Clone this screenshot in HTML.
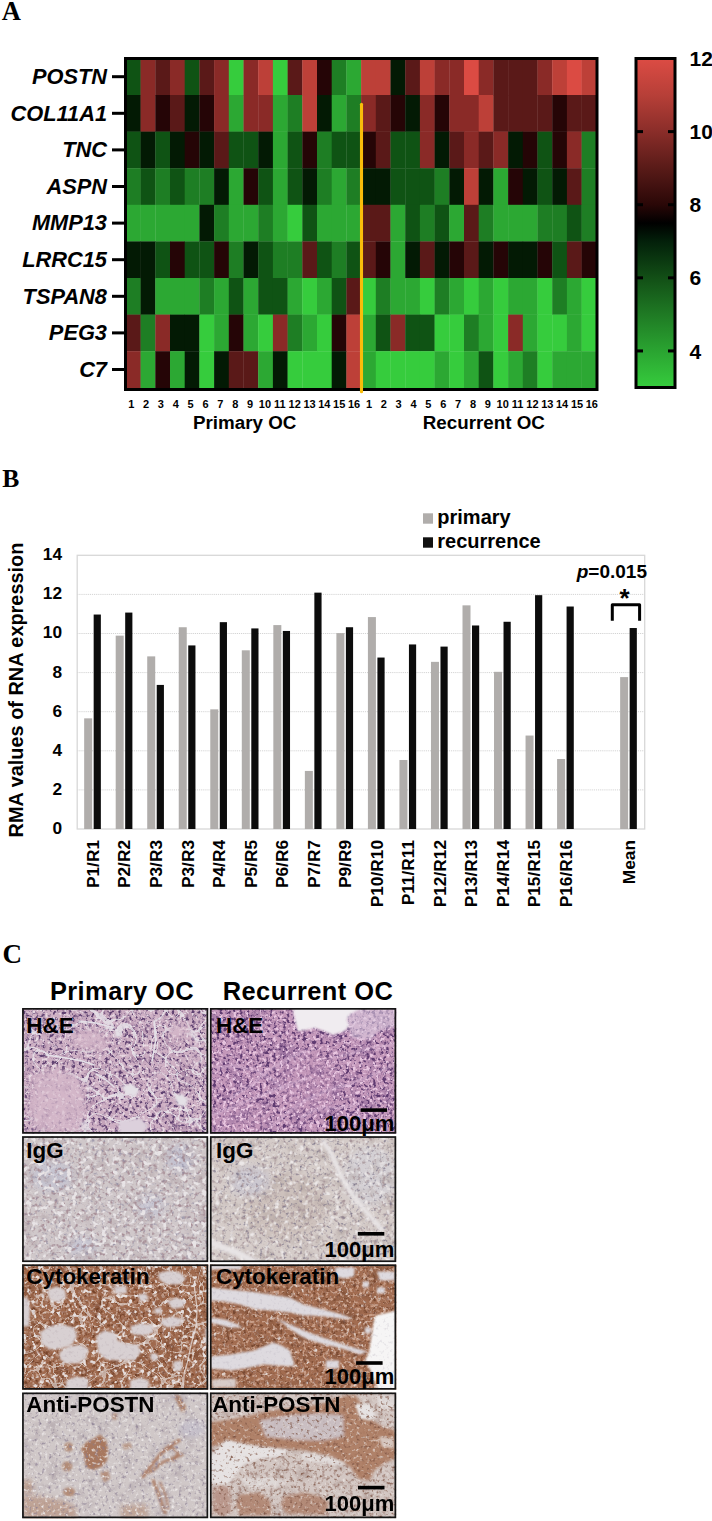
<!DOCTYPE html>
<html><head><meta charset="utf-8"><style>
html,body{margin:0;padding:0;background:#fff;}
body{width:712px;height:1521px;position:relative;overflow:hidden;font-family:"Liberation Sans",sans-serif;}
svg{position:absolute;left:0;top:0;}
text{font-family:"Liberation Sans",sans-serif;font-weight:bold;fill:#000;}
.gene{font-size:21.8px;font-style:italic;text-anchor:end;}
.cn{font-size:11px;text-anchor:middle;}
.grp{font-size:18.8px;text-anchor:middle;}
.cbl{font-size:21px;}
.cat{font-size:17.3px;text-anchor:end;}
.tk{font-size:17.3px;text-anchor:end;}
.ylab{font-size:19.9px;text-anchor:middle;}
.leg{font-size:20px;}
.pv{font-size:19px;text-anchor:end;}
.star{font-size:26px;text-anchor:middle;}
.ptl{font-size:25.4px;text-anchor:middle;letter-spacing:0.45px;}
.plab{font-size:22.4px;}
.um{font-size:22px;text-anchor:end;}
.pl{font-family:"Liberation Serif",serif;font-weight:bold;font-size:25px;}
</style></head><body>
<svg width="712" height="1521" viewBox="0 0 712 1521">
<text x="1.8" y="19.6" class="pl" style="font-size:26.5px">A</text>
<text x="2.2" y="486.8" class="pl" style="font-size:25.6px">B</text>
<text x="2.6" y="962.6" class="pl" style="font-size:27px">C</text>
<rect x="125.90" y="58.40" width="15.00" height="36.90" fill="#0f5314"/>
<rect x="140.60" y="58.40" width="15.00" height="36.90" fill="#8a2a27"/>
<rect x="155.30" y="58.40" width="15.00" height="36.90" fill="#5a1918"/>
<rect x="170.00" y="58.40" width="15.00" height="36.90" fill="#8a2a27"/>
<rect x="184.70" y="58.40" width="15.00" height="36.90" fill="#0f5314"/>
<rect x="199.40" y="58.40" width="15.00" height="36.90" fill="#5a1918"/>
<rect x="214.10" y="58.40" width="15.00" height="36.90" fill="#8a2a27"/>
<rect x="228.80" y="58.40" width="15.00" height="36.90" fill="#36cc3d"/>
<rect x="243.50" y="58.40" width="15.00" height="36.90" fill="#8a2a27"/>
<rect x="258.20" y="58.40" width="15.00" height="36.90" fill="#bd4038"/>
<rect x="272.90" y="58.40" width="15.00" height="36.90" fill="#36cc3d"/>
<rect x="287.60" y="58.40" width="15.00" height="36.90" fill="#5a1918"/>
<rect x="302.30" y="58.40" width="15.00" height="36.90" fill="#bd4038"/>
<rect x="317.00" y="58.40" width="15.00" height="36.90" fill="#250506"/>
<rect x="331.70" y="58.40" width="15.00" height="36.90" fill="#1e7e24"/>
<rect x="346.40" y="58.40" width="15.00" height="36.90" fill="#2ca833"/>
<rect x="361.10" y="58.40" width="15.00" height="36.90" fill="#bd4038"/>
<rect x="375.80" y="58.40" width="15.00" height="36.90" fill="#bd4038"/>
<rect x="390.50" y="58.40" width="15.00" height="36.90" fill="#031a04"/>
<rect x="405.20" y="58.40" width="15.00" height="36.90" fill="#5a1918"/>
<rect x="419.90" y="58.40" width="15.00" height="36.90" fill="#bd4038"/>
<rect x="434.60" y="58.40" width="15.00" height="36.90" fill="#8a2a27"/>
<rect x="449.30" y="58.40" width="15.00" height="36.90" fill="#8a2a27"/>
<rect x="464.00" y="58.40" width="15.00" height="36.90" fill="#db4b43"/>
<rect x="478.70" y="58.40" width="15.00" height="36.90" fill="#8a2a27"/>
<rect x="493.40" y="58.40" width="15.00" height="36.90" fill="#5a1918"/>
<rect x="508.10" y="58.40" width="15.00" height="36.90" fill="#5a1918"/>
<rect x="522.80" y="58.40" width="15.00" height="36.90" fill="#5a1918"/>
<rect x="537.50" y="58.40" width="15.00" height="36.90" fill="#8a2a27"/>
<rect x="552.20" y="58.40" width="15.00" height="36.90" fill="#bd4038"/>
<rect x="566.90" y="58.40" width="15.00" height="36.90" fill="#db4b43"/>
<rect x="581.60" y="58.40" width="15.00" height="36.90" fill="#bd4038"/>
<rect x="125.90" y="95.00" width="15.00" height="36.90" fill="#031a04"/>
<rect x="140.60" y="95.00" width="15.00" height="36.90" fill="#8a2a27"/>
<rect x="155.30" y="95.00" width="15.00" height="36.90" fill="#250506"/>
<rect x="170.00" y="95.00" width="15.00" height="36.90" fill="#5a1918"/>
<rect x="184.70" y="95.00" width="15.00" height="36.90" fill="#031a04"/>
<rect x="199.40" y="95.00" width="15.00" height="36.90" fill="#250506"/>
<rect x="214.10" y="95.00" width="15.00" height="36.90" fill="#8a2a27"/>
<rect x="228.80" y="95.00" width="15.00" height="36.90" fill="#2ca833"/>
<rect x="243.50" y="95.00" width="15.00" height="36.90" fill="#8a2a27"/>
<rect x="258.20" y="95.00" width="15.00" height="36.90" fill="#8a2a27"/>
<rect x="272.90" y="95.00" width="15.00" height="36.90" fill="#2ca833"/>
<rect x="287.60" y="95.00" width="15.00" height="36.90" fill="#1e7e24"/>
<rect x="302.30" y="95.00" width="15.00" height="36.90" fill="#bd4038"/>
<rect x="317.00" y="95.00" width="15.00" height="36.90" fill="#031a04"/>
<rect x="331.70" y="95.00" width="15.00" height="36.90" fill="#2ca833"/>
<rect x="346.40" y="95.00" width="15.00" height="36.90" fill="#1e7e24"/>
<rect x="361.10" y="95.00" width="15.00" height="36.90" fill="#8a2a27"/>
<rect x="375.80" y="95.00" width="15.00" height="36.90" fill="#5a1918"/>
<rect x="390.50" y="95.00" width="15.00" height="36.90" fill="#250506"/>
<rect x="405.20" y="95.00" width="15.00" height="36.90" fill="#031a04"/>
<rect x="419.90" y="95.00" width="15.00" height="36.90" fill="#8a2a27"/>
<rect x="434.60" y="95.00" width="15.00" height="36.90" fill="#250506"/>
<rect x="449.30" y="95.00" width="15.00" height="36.90" fill="#8a2a27"/>
<rect x="464.00" y="95.00" width="15.00" height="36.90" fill="#8a2a27"/>
<rect x="478.70" y="95.00" width="15.00" height="36.90" fill="#bd4038"/>
<rect x="493.40" y="95.00" width="15.00" height="36.90" fill="#5a1918"/>
<rect x="508.10" y="95.00" width="15.00" height="36.90" fill="#5a1918"/>
<rect x="522.80" y="95.00" width="15.00" height="36.90" fill="#5a1918"/>
<rect x="537.50" y="95.00" width="15.00" height="36.90" fill="#5a1918"/>
<rect x="552.20" y="95.00" width="15.00" height="36.90" fill="#250506"/>
<rect x="566.90" y="95.00" width="15.00" height="36.90" fill="#5a1918"/>
<rect x="581.60" y="95.00" width="15.00" height="36.90" fill="#5a1918"/>
<rect x="125.90" y="131.60" width="15.00" height="36.90" fill="#0f5314"/>
<rect x="140.60" y="131.60" width="15.00" height="36.90" fill="#031a04"/>
<rect x="155.30" y="131.60" width="15.00" height="36.90" fill="#0f5314"/>
<rect x="170.00" y="131.60" width="15.00" height="36.90" fill="#031a04"/>
<rect x="184.70" y="131.60" width="15.00" height="36.90" fill="#250506"/>
<rect x="199.40" y="131.60" width="15.00" height="36.90" fill="#031a04"/>
<rect x="214.10" y="131.60" width="15.00" height="36.90" fill="#5a1918"/>
<rect x="228.80" y="131.60" width="15.00" height="36.90" fill="#0f5314"/>
<rect x="243.50" y="131.60" width="15.00" height="36.90" fill="#0f5314"/>
<rect x="258.20" y="131.60" width="15.00" height="36.90" fill="#031a04"/>
<rect x="272.90" y="131.60" width="15.00" height="36.90" fill="#2ca833"/>
<rect x="287.60" y="131.60" width="15.00" height="36.90" fill="#0f5314"/>
<rect x="302.30" y="131.60" width="15.00" height="36.90" fill="#250506"/>
<rect x="317.00" y="131.60" width="15.00" height="36.90" fill="#1e7e24"/>
<rect x="331.70" y="131.60" width="15.00" height="36.90" fill="#0f5314"/>
<rect x="346.40" y="131.60" width="15.00" height="36.90" fill="#0f5314"/>
<rect x="361.10" y="131.60" width="15.00" height="36.90" fill="#250506"/>
<rect x="375.80" y="131.60" width="15.00" height="36.90" fill="#5a1918"/>
<rect x="390.50" y="131.60" width="15.00" height="36.90" fill="#0f5314"/>
<rect x="405.20" y="131.60" width="15.00" height="36.90" fill="#0f5314"/>
<rect x="419.90" y="131.60" width="15.00" height="36.90" fill="#8a2a27"/>
<rect x="434.60" y="131.60" width="15.00" height="36.90" fill="#031a04"/>
<rect x="449.30" y="131.60" width="15.00" height="36.90" fill="#5a1918"/>
<rect x="464.00" y="131.60" width="15.00" height="36.90" fill="#8a2a27"/>
<rect x="478.70" y="131.60" width="15.00" height="36.90" fill="#5a1918"/>
<rect x="493.40" y="131.60" width="15.00" height="36.90" fill="#8a2a27"/>
<rect x="508.10" y="131.60" width="15.00" height="36.90" fill="#031a04"/>
<rect x="522.80" y="131.60" width="15.00" height="36.90" fill="#250506"/>
<rect x="537.50" y="131.60" width="15.00" height="36.90" fill="#0f5314"/>
<rect x="552.20" y="131.60" width="15.00" height="36.90" fill="#250506"/>
<rect x="566.90" y="131.60" width="15.00" height="36.90" fill="#8a2a27"/>
<rect x="581.60" y="131.60" width="15.00" height="36.90" fill="#1e7e24"/>
<rect x="125.90" y="168.20" width="15.00" height="36.90" fill="#1e7e24"/>
<rect x="140.60" y="168.20" width="15.00" height="36.90" fill="#0f5314"/>
<rect x="155.30" y="168.20" width="15.00" height="36.90" fill="#1e7e24"/>
<rect x="170.00" y="168.20" width="15.00" height="36.90" fill="#0f5314"/>
<rect x="184.70" y="168.20" width="15.00" height="36.90" fill="#1e7e24"/>
<rect x="199.40" y="168.20" width="15.00" height="36.90" fill="#1e7e24"/>
<rect x="214.10" y="168.20" width="15.00" height="36.90" fill="#031a04"/>
<rect x="228.80" y="168.20" width="15.00" height="36.90" fill="#2ca833"/>
<rect x="243.50" y="168.20" width="15.00" height="36.90" fill="#250506"/>
<rect x="258.20" y="168.20" width="15.00" height="36.90" fill="#0f5314"/>
<rect x="272.90" y="168.20" width="15.00" height="36.90" fill="#2ca833"/>
<rect x="287.60" y="168.20" width="15.00" height="36.90" fill="#0f5314"/>
<rect x="302.30" y="168.20" width="15.00" height="36.90" fill="#031a04"/>
<rect x="317.00" y="168.20" width="15.00" height="36.90" fill="#1e7e24"/>
<rect x="331.70" y="168.20" width="15.00" height="36.90" fill="#2ca833"/>
<rect x="346.40" y="168.20" width="15.00" height="36.90" fill="#1e7e24"/>
<rect x="361.10" y="168.20" width="15.00" height="36.90" fill="#031a04"/>
<rect x="375.80" y="168.20" width="15.00" height="36.90" fill="#031a04"/>
<rect x="390.50" y="168.20" width="15.00" height="36.90" fill="#0f5314"/>
<rect x="405.20" y="168.20" width="15.00" height="36.90" fill="#0f5314"/>
<rect x="419.90" y="168.20" width="15.00" height="36.90" fill="#0f5314"/>
<rect x="434.60" y="168.20" width="15.00" height="36.90" fill="#1e7e24"/>
<rect x="449.30" y="168.20" width="15.00" height="36.90" fill="#031a04"/>
<rect x="464.00" y="168.20" width="15.00" height="36.90" fill="#bd4038"/>
<rect x="478.70" y="168.20" width="15.00" height="36.90" fill="#031a04"/>
<rect x="493.40" y="168.20" width="15.00" height="36.90" fill="#2ca833"/>
<rect x="508.10" y="168.20" width="15.00" height="36.90" fill="#250506"/>
<rect x="522.80" y="168.20" width="15.00" height="36.90" fill="#031a04"/>
<rect x="537.50" y="168.20" width="15.00" height="36.90" fill="#0f5314"/>
<rect x="552.20" y="168.20" width="15.00" height="36.90" fill="#031a04"/>
<rect x="566.90" y="168.20" width="15.00" height="36.90" fill="#5a1918"/>
<rect x="581.60" y="168.20" width="15.00" height="36.90" fill="#1e7e24"/>
<rect x="125.90" y="204.80" width="15.00" height="36.90" fill="#2ca833"/>
<rect x="140.60" y="204.80" width="15.00" height="36.90" fill="#2ca833"/>
<rect x="155.30" y="204.80" width="15.00" height="36.90" fill="#2ca833"/>
<rect x="170.00" y="204.80" width="15.00" height="36.90" fill="#2ca833"/>
<rect x="184.70" y="204.80" width="15.00" height="36.90" fill="#2ca833"/>
<rect x="199.40" y="204.80" width="15.00" height="36.90" fill="#031a04"/>
<rect x="214.10" y="204.80" width="15.00" height="36.90" fill="#1e7e24"/>
<rect x="228.80" y="204.80" width="15.00" height="36.90" fill="#2ca833"/>
<rect x="243.50" y="204.80" width="15.00" height="36.90" fill="#2ca833"/>
<rect x="258.20" y="204.80" width="15.00" height="36.90" fill="#1e7e24"/>
<rect x="272.90" y="204.80" width="15.00" height="36.90" fill="#2ca833"/>
<rect x="287.60" y="204.80" width="15.00" height="36.90" fill="#36cc3d"/>
<rect x="302.30" y="204.80" width="15.00" height="36.90" fill="#0f5314"/>
<rect x="317.00" y="204.80" width="15.00" height="36.90" fill="#2ca833"/>
<rect x="331.70" y="204.80" width="15.00" height="36.90" fill="#2ca833"/>
<rect x="346.40" y="204.80" width="15.00" height="36.90" fill="#2ca833"/>
<rect x="361.10" y="204.80" width="15.00" height="36.90" fill="#5a1918"/>
<rect x="375.80" y="204.80" width="15.00" height="36.90" fill="#5a1918"/>
<rect x="390.50" y="204.80" width="15.00" height="36.90" fill="#2ca833"/>
<rect x="405.20" y="204.80" width="15.00" height="36.90" fill="#0f5314"/>
<rect x="419.90" y="204.80" width="15.00" height="36.90" fill="#1e7e24"/>
<rect x="434.60" y="204.80" width="15.00" height="36.90" fill="#0f5314"/>
<rect x="449.30" y="204.80" width="15.00" height="36.90" fill="#2ca833"/>
<rect x="464.00" y="204.80" width="15.00" height="36.90" fill="#5a1918"/>
<rect x="478.70" y="204.80" width="15.00" height="36.90" fill="#1e7e24"/>
<rect x="493.40" y="204.80" width="15.00" height="36.90" fill="#2ca833"/>
<rect x="508.10" y="204.80" width="15.00" height="36.90" fill="#2ca833"/>
<rect x="522.80" y="204.80" width="15.00" height="36.90" fill="#2ca833"/>
<rect x="537.50" y="204.80" width="15.00" height="36.90" fill="#1e7e24"/>
<rect x="552.20" y="204.80" width="15.00" height="36.90" fill="#1e7e24"/>
<rect x="566.90" y="204.80" width="15.00" height="36.90" fill="#0f5314"/>
<rect x="581.60" y="204.80" width="15.00" height="36.90" fill="#1e7e24"/>
<rect x="125.90" y="241.40" width="15.00" height="36.90" fill="#031a04"/>
<rect x="140.60" y="241.40" width="15.00" height="36.90" fill="#031a04"/>
<rect x="155.30" y="241.40" width="15.00" height="36.90" fill="#0f5314"/>
<rect x="170.00" y="241.40" width="15.00" height="36.90" fill="#250506"/>
<rect x="184.70" y="241.40" width="15.00" height="36.90" fill="#0f5314"/>
<rect x="199.40" y="241.40" width="15.00" height="36.90" fill="#0f5314"/>
<rect x="214.10" y="241.40" width="15.00" height="36.90" fill="#250506"/>
<rect x="228.80" y="241.40" width="15.00" height="36.90" fill="#1e7e24"/>
<rect x="243.50" y="241.40" width="15.00" height="36.90" fill="#031a04"/>
<rect x="258.20" y="241.40" width="15.00" height="36.90" fill="#0f5314"/>
<rect x="272.90" y="241.40" width="15.00" height="36.90" fill="#1e7e24"/>
<rect x="287.60" y="241.40" width="15.00" height="36.90" fill="#1e7e24"/>
<rect x="302.30" y="241.40" width="15.00" height="36.90" fill="#5a1918"/>
<rect x="317.00" y="241.40" width="15.00" height="36.90" fill="#0f5314"/>
<rect x="331.70" y="241.40" width="15.00" height="36.90" fill="#1e7e24"/>
<rect x="346.40" y="241.40" width="15.00" height="36.90" fill="#0f5314"/>
<rect x="361.10" y="241.40" width="15.00" height="36.90" fill="#5a1918"/>
<rect x="375.80" y="241.40" width="15.00" height="36.90" fill="#250506"/>
<rect x="390.50" y="241.40" width="15.00" height="36.90" fill="#2ca833"/>
<rect x="405.20" y="241.40" width="15.00" height="36.90" fill="#031a04"/>
<rect x="419.90" y="241.40" width="15.00" height="36.90" fill="#5a1918"/>
<rect x="434.60" y="241.40" width="15.00" height="36.90" fill="#031a04"/>
<rect x="449.30" y="241.40" width="15.00" height="36.90" fill="#250506"/>
<rect x="464.00" y="241.40" width="15.00" height="36.90" fill="#5a1918"/>
<rect x="478.70" y="241.40" width="15.00" height="36.90" fill="#031a04"/>
<rect x="493.40" y="241.40" width="15.00" height="36.90" fill="#250506"/>
<rect x="508.10" y="241.40" width="15.00" height="36.90" fill="#031a04"/>
<rect x="522.80" y="241.40" width="15.00" height="36.90" fill="#031a04"/>
<rect x="537.50" y="241.40" width="15.00" height="36.90" fill="#250506"/>
<rect x="552.20" y="241.40" width="15.00" height="36.90" fill="#0f5314"/>
<rect x="566.90" y="241.40" width="15.00" height="36.90" fill="#5a1918"/>
<rect x="581.60" y="241.40" width="15.00" height="36.90" fill="#250506"/>
<rect x="125.90" y="278.00" width="15.00" height="36.90" fill="#1e7e24"/>
<rect x="140.60" y="278.00" width="15.00" height="36.90" fill="#031a04"/>
<rect x="155.30" y="278.00" width="15.00" height="36.90" fill="#2ca833"/>
<rect x="170.00" y="278.00" width="15.00" height="36.90" fill="#2ca833"/>
<rect x="184.70" y="278.00" width="15.00" height="36.90" fill="#2ca833"/>
<rect x="199.40" y="278.00" width="15.00" height="36.90" fill="#1e7e24"/>
<rect x="214.10" y="278.00" width="15.00" height="36.90" fill="#2ca833"/>
<rect x="228.80" y="278.00" width="15.00" height="36.90" fill="#0f5314"/>
<rect x="243.50" y="278.00" width="15.00" height="36.90" fill="#2ca833"/>
<rect x="258.20" y="278.00" width="15.00" height="36.90" fill="#0f5314"/>
<rect x="272.90" y="278.00" width="15.00" height="36.90" fill="#0f5314"/>
<rect x="287.60" y="278.00" width="15.00" height="36.90" fill="#2ca833"/>
<rect x="302.30" y="278.00" width="15.00" height="36.90" fill="#36cc3d"/>
<rect x="317.00" y="278.00" width="15.00" height="36.90" fill="#2ca833"/>
<rect x="331.70" y="278.00" width="15.00" height="36.90" fill="#0f5314"/>
<rect x="346.40" y="278.00" width="15.00" height="36.90" fill="#5a1918"/>
<rect x="361.10" y="278.00" width="15.00" height="36.90" fill="#36cc3d"/>
<rect x="375.80" y="278.00" width="15.00" height="36.90" fill="#1e7e24"/>
<rect x="390.50" y="278.00" width="15.00" height="36.90" fill="#2ca833"/>
<rect x="405.20" y="278.00" width="15.00" height="36.90" fill="#2ca833"/>
<rect x="419.90" y="278.00" width="15.00" height="36.90" fill="#36cc3d"/>
<rect x="434.60" y="278.00" width="15.00" height="36.90" fill="#1e7e24"/>
<rect x="449.30" y="278.00" width="15.00" height="36.90" fill="#2ca833"/>
<rect x="464.00" y="278.00" width="15.00" height="36.90" fill="#36cc3d"/>
<rect x="478.70" y="278.00" width="15.00" height="36.90" fill="#2ca833"/>
<rect x="493.40" y="278.00" width="15.00" height="36.90" fill="#36cc3d"/>
<rect x="508.10" y="278.00" width="15.00" height="36.90" fill="#2ca833"/>
<rect x="522.80" y="278.00" width="15.00" height="36.90" fill="#2ca833"/>
<rect x="537.50" y="278.00" width="15.00" height="36.90" fill="#36cc3d"/>
<rect x="552.20" y="278.00" width="15.00" height="36.90" fill="#1e7e24"/>
<rect x="566.90" y="278.00" width="15.00" height="36.90" fill="#2ca833"/>
<rect x="581.60" y="278.00" width="15.00" height="36.90" fill="#36cc3d"/>
<rect x="125.90" y="314.60" width="15.00" height="36.90" fill="#5a1918"/>
<rect x="140.60" y="314.60" width="15.00" height="36.90" fill="#1e7e24"/>
<rect x="155.30" y="314.60" width="15.00" height="36.90" fill="#8a2a27"/>
<rect x="170.00" y="314.60" width="15.00" height="36.90" fill="#031a04"/>
<rect x="184.70" y="314.60" width="15.00" height="36.90" fill="#031a04"/>
<rect x="199.40" y="314.60" width="15.00" height="36.90" fill="#36cc3d"/>
<rect x="214.10" y="314.60" width="15.00" height="36.90" fill="#2ca833"/>
<rect x="228.80" y="314.60" width="15.00" height="36.90" fill="#250506"/>
<rect x="243.50" y="314.60" width="15.00" height="36.90" fill="#2ca833"/>
<rect x="258.20" y="314.60" width="15.00" height="36.90" fill="#36cc3d"/>
<rect x="272.90" y="314.60" width="15.00" height="36.90" fill="#8a2a27"/>
<rect x="287.60" y="314.60" width="15.00" height="36.90" fill="#1e7e24"/>
<rect x="302.30" y="314.60" width="15.00" height="36.90" fill="#2ca833"/>
<rect x="317.00" y="314.60" width="15.00" height="36.90" fill="#36cc3d"/>
<rect x="331.70" y="314.60" width="15.00" height="36.90" fill="#250506"/>
<rect x="346.40" y="314.60" width="15.00" height="36.90" fill="#bd4038"/>
<rect x="361.10" y="314.60" width="15.00" height="36.90" fill="#2ca833"/>
<rect x="375.80" y="314.60" width="15.00" height="36.90" fill="#0f5314"/>
<rect x="390.50" y="314.60" width="15.00" height="36.90" fill="#8a2a27"/>
<rect x="405.20" y="314.60" width="15.00" height="36.90" fill="#0f5314"/>
<rect x="419.90" y="314.60" width="15.00" height="36.90" fill="#0f5314"/>
<rect x="434.60" y="314.60" width="15.00" height="36.90" fill="#36cc3d"/>
<rect x="449.30" y="314.60" width="15.00" height="36.90" fill="#36cc3d"/>
<rect x="464.00" y="314.60" width="15.00" height="36.90" fill="#1e7e24"/>
<rect x="478.70" y="314.60" width="15.00" height="36.90" fill="#2ca833"/>
<rect x="493.40" y="314.60" width="15.00" height="36.90" fill="#36cc3d"/>
<rect x="508.10" y="314.60" width="15.00" height="36.90" fill="#8a2a27"/>
<rect x="522.80" y="314.60" width="15.00" height="36.90" fill="#2ca833"/>
<rect x="537.50" y="314.60" width="15.00" height="36.90" fill="#36cc3d"/>
<rect x="552.20" y="314.60" width="15.00" height="36.90" fill="#36cc3d"/>
<rect x="566.90" y="314.60" width="15.00" height="36.90" fill="#2ca833"/>
<rect x="581.60" y="314.60" width="15.00" height="36.90" fill="#36cc3d"/>
<rect x="125.90" y="351.20" width="15.00" height="36.90" fill="#8a2a27"/>
<rect x="140.60" y="351.20" width="15.00" height="36.90" fill="#2ca833"/>
<rect x="155.30" y="351.20" width="15.00" height="36.90" fill="#250506"/>
<rect x="170.00" y="351.20" width="15.00" height="36.90" fill="#2ca833"/>
<rect x="184.70" y="351.20" width="15.00" height="36.90" fill="#031a04"/>
<rect x="199.40" y="351.20" width="15.00" height="36.90" fill="#36cc3d"/>
<rect x="214.10" y="351.20" width="15.00" height="36.90" fill="#031a04"/>
<rect x="228.80" y="351.20" width="15.00" height="36.90" fill="#5a1918"/>
<rect x="243.50" y="351.20" width="15.00" height="36.90" fill="#5a1918"/>
<rect x="258.20" y="351.20" width="15.00" height="36.90" fill="#2ca833"/>
<rect x="272.90" y="351.20" width="15.00" height="36.90" fill="#031a04"/>
<rect x="287.60" y="351.20" width="15.00" height="36.90" fill="#36cc3d"/>
<rect x="302.30" y="351.20" width="15.00" height="36.90" fill="#36cc3d"/>
<rect x="317.00" y="351.20" width="15.00" height="36.90" fill="#36cc3d"/>
<rect x="331.70" y="351.20" width="15.00" height="36.90" fill="#031a04"/>
<rect x="346.40" y="351.20" width="15.00" height="36.90" fill="#bd4038"/>
<rect x="361.10" y="351.20" width="15.00" height="36.90" fill="#2ca833"/>
<rect x="375.80" y="351.20" width="15.00" height="36.90" fill="#36cc3d"/>
<rect x="390.50" y="351.20" width="15.00" height="36.90" fill="#36cc3d"/>
<rect x="405.20" y="351.20" width="15.00" height="36.90" fill="#36cc3d"/>
<rect x="419.90" y="351.20" width="15.00" height="36.90" fill="#36cc3d"/>
<rect x="434.60" y="351.20" width="15.00" height="36.90" fill="#2ca833"/>
<rect x="449.30" y="351.20" width="15.00" height="36.90" fill="#36cc3d"/>
<rect x="464.00" y="351.20" width="15.00" height="36.90" fill="#2ca833"/>
<rect x="478.70" y="351.20" width="15.00" height="36.90" fill="#0f5314"/>
<rect x="493.40" y="351.20" width="15.00" height="36.90" fill="#36cc3d"/>
<rect x="508.10" y="351.20" width="15.00" height="36.90" fill="#2ca833"/>
<rect x="522.80" y="351.20" width="15.00" height="36.90" fill="#1e7e24"/>
<rect x="537.50" y="351.20" width="15.00" height="36.90" fill="#36cc3d"/>
<rect x="552.20" y="351.20" width="15.00" height="36.90" fill="#2ca833"/>
<rect x="566.90" y="351.20" width="15.00" height="36.90" fill="#2ca833"/>
<rect x="581.60" y="351.20" width="15.00" height="36.90" fill="#2ca833"/>
<rect x="125.5" y="58.5" width="471.5" height="331.0" fill="none" stroke="#000" stroke-width="3"/>
<rect x="112" y="75.20" width="13" height="3" fill="#000"/>
<text x="107" y="83.90" class="gene">POSTN</text>
<rect x="112" y="111.80" width="13" height="3" fill="#000"/>
<text x="107" y="120.50" class="gene">COL11A1</text>
<rect x="112" y="148.40" width="13" height="3" fill="#000"/>
<text x="107" y="157.10" class="gene">TNC</text>
<rect x="112" y="185.00" width="13" height="3" fill="#000"/>
<text x="107" y="193.70" class="gene">ASPN</text>
<rect x="112" y="221.60" width="13" height="3" fill="#000"/>
<text x="107" y="230.30" class="gene">MMP13</text>
<rect x="112" y="258.20" width="13" height="3" fill="#000"/>
<text x="107" y="266.90" class="gene">LRRC15</text>
<rect x="112" y="294.80" width="13" height="3" fill="#000"/>
<text x="107" y="303.50" class="gene">TSPAN8</text>
<rect x="112" y="331.40" width="13" height="3" fill="#000"/>
<text x="107" y="340.10" class="gene">PEG3</text>
<rect x="112" y="368.00" width="13" height="3" fill="#000"/>
<text x="107" y="376.70" class="gene">C7</text>
<text x="131.20" y="407.5" class="cn">1</text>
<text x="146.06" y="407.5" class="cn">2</text>
<text x="160.92" y="407.5" class="cn">3</text>
<text x="175.78" y="407.5" class="cn">4</text>
<text x="190.64" y="407.5" class="cn">5</text>
<text x="205.50" y="407.5" class="cn">6</text>
<text x="220.36" y="407.5" class="cn">7</text>
<text x="235.22" y="407.5" class="cn">8</text>
<text x="250.08" y="407.5" class="cn">9</text>
<text x="264.94" y="407.5" class="cn">10</text>
<text x="279.80" y="407.5" class="cn">11</text>
<text x="294.66" y="407.5" class="cn">12</text>
<text x="309.52" y="407.5" class="cn">13</text>
<text x="324.38" y="407.5" class="cn">14</text>
<text x="339.24" y="407.5" class="cn">15</text>
<text x="354.10" y="407.5" class="cn">16</text>
<text x="368.96" y="407.5" class="cn">1</text>
<text x="383.82" y="407.5" class="cn">2</text>
<text x="398.68" y="407.5" class="cn">3</text>
<text x="413.54" y="407.5" class="cn">4</text>
<text x="428.40" y="407.5" class="cn">5</text>
<text x="443.26" y="407.5" class="cn">6</text>
<text x="458.12" y="407.5" class="cn">7</text>
<text x="472.98" y="407.5" class="cn">8</text>
<text x="487.84" y="407.5" class="cn">9</text>
<text x="502.70" y="407.5" class="cn">10</text>
<text x="517.56" y="407.5" class="cn">11</text>
<text x="532.42" y="407.5" class="cn">12</text>
<text x="547.28" y="407.5" class="cn">13</text>
<text x="562.14" y="407.5" class="cn">14</text>
<text x="577.00" y="407.5" class="cn">15</text>
<text x="591.86" y="407.5" class="cn">16</text>
<text x="244.7" y="428.8" class="grp">Primary OC</text>
<text x="483.8" y="428.8" class="grp">Recurrent OC</text>
<line x1="361.5" y1="104.2" x2="361.5" y2="391.8" stroke="#f9bd0a" stroke-width="3.1" stroke-linecap="round"/>
<defs><linearGradient id="cb" x1="0" y1="0" x2="0" y2="1"><stop offset="0" stop-color="#dc4c44"/><stop offset="0.111" stop-color="#b73f38"/><stop offset="0.222" stop-color="#8a2d29"/><stop offset="0.333" stop-color="#591b18"/><stop offset="0.444" stop-color="#2a0707"/><stop offset="0.5" stop-color="#000000"/><stop offset="0.556" stop-color="#03200a"/><stop offset="0.667" stop-color="#124f16"/><stop offset="0.778" stop-color="#1f7a24"/><stop offset="0.889" stop-color="#2aa431"/><stop offset="1" stop-color="#36cc3d"/></linearGradient></defs>
<rect x="636" y="58.5" width="39" height="329" fill="url(#cb)" stroke="#000" stroke-width="3"/>
<rect x="637" y="130.11" width="6" height="3" fill="#000"/>
<rect x="668" y="130.11" width="6" height="3" fill="#000"/>
<text x="689.5" y="139.21" class="cbl">10</text>
<rect x="637" y="203.22" width="6" height="3" fill="#000"/>
<rect x="668" y="203.22" width="6" height="3" fill="#000"/>
<text x="689.5" y="212.32" class="cbl">8</text>
<rect x="637" y="276.33" width="6" height="3" fill="#000"/>
<rect x="668" y="276.33" width="6" height="3" fill="#000"/>
<text x="689.5" y="285.43" class="cbl">6</text>
<rect x="637" y="349.44" width="6" height="3" fill="#000"/>
<rect x="668" y="349.44" width="6" height="3" fill="#000"/>
<text x="689.5" y="358.54" class="cbl">4</text>
<text x="689.5" y="65.5" class="cbl">12</text>
<line x1="77.2" y1="789.90" x2="644.7" y2="789.90" stroke="#d4d4d4" stroke-width="1" stroke-dasharray="1.2,0.9"/>
<line x1="77.2" y1="750.80" x2="644.7" y2="750.80" stroke="#d4d4d4" stroke-width="1" stroke-dasharray="1.2,0.9"/>
<line x1="77.2" y1="711.70" x2="644.7" y2="711.70" stroke="#d4d4d4" stroke-width="1" stroke-dasharray="1.2,0.9"/>
<line x1="77.2" y1="672.60" x2="644.7" y2="672.60" stroke="#d4d4d4" stroke-width="1" stroke-dasharray="1.2,0.9"/>
<line x1="77.2" y1="633.50" x2="644.7" y2="633.50" stroke="#d4d4d4" stroke-width="1" stroke-dasharray="1.2,0.9"/>
<line x1="77.2" y1="594.40" x2="644.7" y2="594.40" stroke="#d4d4d4" stroke-width="1" stroke-dasharray="1.2,0.9"/>
<rect x="77.2" y="555.30" width="567.50" height="273.70" fill="none" stroke="#d8d8d8" stroke-width="1.3"/>
<rect x="84.16" y="718.35" width="8" height="110.65" fill="#b0adab"/>
<rect x="93.66" y="614.54" width="7.2" height="214.46" fill="#0c0c0c"/>
<text transform="translate(98.96,840) rotate(-90)" class="cat">P1/R1</text>
<rect x="115.69" y="635.65" width="8" height="193.35" fill="#b0adab"/>
<rect x="125.19" y="612.58" width="7.2" height="216.42" fill="#0c0c0c"/>
<text transform="translate(130.49,840) rotate(-90)" class="cat">P2/R2</text>
<rect x="147.22" y="656.37" width="8" height="172.63" fill="#b0adab"/>
<rect x="156.72" y="684.92" width="7.2" height="144.08" fill="#0c0c0c"/>
<text transform="translate(162.02,840) rotate(-90)" class="cat">P3/R3</text>
<rect x="178.75" y="627.24" width="8" height="201.76" fill="#b0adab"/>
<rect x="188.25" y="645.43" width="7.2" height="183.57" fill="#0c0c0c"/>
<text transform="translate(193.55,840) rotate(-90)" class="cat">P3/R3</text>
<rect x="210.27" y="709.35" width="8" height="119.65" fill="#b0adab"/>
<rect x="219.77" y="622.16" width="7.2" height="206.84" fill="#0c0c0c"/>
<text transform="translate(225.07,840) rotate(-90)" class="cat">P4/R4</text>
<rect x="241.80" y="650.31" width="8" height="178.69" fill="#b0adab"/>
<rect x="251.30" y="628.42" width="7.2" height="200.58" fill="#0c0c0c"/>
<text transform="translate(256.60,840) rotate(-90)" class="cat">P5/R5</text>
<rect x="273.33" y="625.09" width="8" height="203.91" fill="#b0adab"/>
<rect x="282.83" y="630.96" width="7.2" height="198.04" fill="#0c0c0c"/>
<text transform="translate(288.13,840) rotate(-90)" class="cat">P6/R6</text>
<rect x="304.86" y="770.94" width="8" height="58.06" fill="#b0adab"/>
<rect x="314.36" y="592.64" width="7.2" height="236.36" fill="#0c0c0c"/>
<text transform="translate(319.66,840) rotate(-90)" class="cat">P7/R7</text>
<rect x="336.39" y="633.11" width="8" height="195.89" fill="#b0adab"/>
<rect x="345.89" y="627.24" width="7.2" height="201.76" fill="#0c0c0c"/>
<text transform="translate(351.19,840) rotate(-90)" class="cat">P9/R9</text>
<rect x="367.91" y="617.08" width="8" height="211.92" fill="#b0adab"/>
<rect x="377.41" y="657.55" width="7.2" height="171.45" fill="#0c0c0c"/>
<text transform="translate(382.71,840) rotate(-90)" class="cat">P10/R10</text>
<rect x="399.44" y="759.99" width="8" height="69.01" fill="#b0adab"/>
<rect x="408.94" y="644.45" width="7.2" height="184.55" fill="#0c0c0c"/>
<text transform="translate(414.24,840) rotate(-90)" class="cat">P11/R11</text>
<rect x="430.97" y="661.85" width="8" height="167.15" fill="#b0adab"/>
<rect x="440.47" y="646.60" width="7.2" height="182.40" fill="#0c0c0c"/>
<text transform="translate(445.77,840) rotate(-90)" class="cat">P12/R12</text>
<rect x="462.50" y="605.35" width="8" height="223.65" fill="#b0adab"/>
<rect x="472.00" y="625.48" width="7.2" height="203.52" fill="#0c0c0c"/>
<text transform="translate(477.30,840) rotate(-90)" class="cat">P13/R13</text>
<rect x="494.02" y="671.82" width="8" height="157.18" fill="#b0adab"/>
<rect x="503.52" y="621.77" width="7.2" height="207.23" fill="#0c0c0c"/>
<text transform="translate(508.82,840) rotate(-90)" class="cat">P14/R14</text>
<rect x="525.55" y="735.55" width="8" height="93.45" fill="#b0adab"/>
<rect x="535.05" y="595.18" width="7.2" height="233.82" fill="#0c0c0c"/>
<text transform="translate(540.35,840) rotate(-90)" class="cat">P15/R15</text>
<rect x="557.08" y="759.01" width="8" height="69.99" fill="#b0adab"/>
<rect x="566.58" y="606.52" width="7.2" height="222.48" fill="#0c0c0c"/>
<text transform="translate(571.88,840) rotate(-90)" class="cat">P16/R16</text>
<rect x="620.14" y="677.10" width="8" height="151.90" fill="#b0adab"/>
<rect x="629.64" y="628.03" width="7.2" height="200.97" fill="#0c0c0c"/>
<text transform="translate(634.94,840) rotate(-90)" class="cat">Mean</text>
<text x="62" y="833.90" class="tk">0</text>
<text x="62" y="794.80" class="tk">2</text>
<text x="62" y="755.70" class="tk">4</text>
<text x="62" y="716.60" class="tk">6</text>
<text x="62" y="677.50" class="tk">8</text>
<text x="62" y="638.40" class="tk">10</text>
<text x="62" y="599.30" class="tk">12</text>
<text x="62" y="560.20" class="tk">14</text>
<text transform="translate(22.5,690) rotate(-90)" class="ylab">RMA values of RNA expression</text>
<rect x="423" y="513.3" width="10" height="10.4" fill="#b0adab"/>
<text x="437.3" y="523.8" class="leg">primary</text>
<rect x="423" y="537.3" width="10" height="10.4" fill="#111"/>
<text x="437.3" y="548.3" class="leg">recurrence</text>
<text x="647" y="577.5" class="pv"><tspan font-style="italic">p</tspan>=0.015</text>
<text x="624.6" y="606.5" class="star">*</text>
<path d="M612.3 620.7 V604.8 H639.6 V620.7" fill="none" stroke="#000" stroke-width="3" stroke-linejoin="round"/>
<defs>
<filter id="bl0" x="-20%" y="-20%" width="140%" height="140%"><feGaussianBlur stdDeviation="0.5"/></filter>
<filter id="bl1" x="-20%" y="-20%" width="140%" height="140%"><feGaussianBlur stdDeviation="0.9"/></filter>
<filter id="bl2" x="-20%" y="-20%" width="140%" height="140%"><feGaussianBlur stdDeviation="1.6"/></filter>
<filter id="bl3" x="-20%" y="-20%" width="140%" height="140%"><feGaussianBlur stdDeviation="2.4"/></filter>
<filter id="bl4" x="-20%" y="-20%" width="140%" height="140%"><feGaussianBlur stdDeviation="3.5"/></filter>
<filter id="bl5" x="-20%" y="-20%" width="140%" height="140%"><feGaussianBlur stdDeviation="5"/></filter>
<filter id="bl6" x="-20%" y="-20%" width="140%" height="140%"><feGaussianBlur stdDeviation="6"/></filter>
<filter id="bl7" x="-20%" y="-20%" width="140%" height="140%"><feGaussianBlur stdDeviation="7"/></filter>
<filter id="f0" x="0" y="0" width="100%" height="100%" color-interpolation-filters="sRGB"><feTurbulence type="fractalNoise" baseFrequency="0.07" numOctaves="2" seed="11"/><feColorMatrix type="matrix" values="0 0 0 0 0.635 0 0 0 0 0.494 0 0 0 0 0.620 1.800 0 0 0 -0.900"/></filter>
<filter id="f1" x="0" y="0" width="100%" height="100%" color-interpolation-filters="sRGB"><feTurbulence type="fractalNoise" baseFrequency="0.3" numOctaves="2" seed="33"/><feColorMatrix type="matrix" values="0 0 0 0 0.431 0 0 0 0 0.314 0 0 0 0 0.502 3.150 0 0 0 -1.795"/><feGaussianBlur stdDeviation="0.4"/></filter>
<filter id="f2" x="0" y="0" width="100%" height="100%" color-interpolation-filters="sRGB"><feTurbulence type="fractalNoise" baseFrequency="0.3" numOctaves="2" seed="3"/><feColorMatrix type="matrix" values="0 0 0 0 0.369 0 0 0 0 0.251 0 0 0 0 0.439 5.950 0 0 0 -3.154"/><feGaussianBlur stdDeviation="0.4"/></filter>
<filter id="f3" x="0" y="0" width="100%" height="100%" color-interpolation-filters="sRGB"><feTurbulence type="fractalNoise" baseFrequency="0.3" numOctaves="2" seed="31"/><feColorMatrix type="matrix" values="0 0 0 0 0.910 0 0 0 0 0.847 0 0 0 0 0.886 4.900 0 0 0 -2.646"/><feGaussianBlur stdDeviation="0.4"/></filter>
<filter id="f4" x="0" y="0" width="100%" height="100%" color-interpolation-filters="sRGB"><feTurbulence type="turbulence" baseFrequency="0.045" numOctaves="1" seed="5"/><feColorMatrix type="matrix" values="0 0 0 0 0.910 0 0 0 0 0.894 0 0 0 0 0.918 -25.000 0 0 0 1.000"/></filter>
<filter id="f5" x="0" y="0" width="100%" height="100%" color-interpolation-filters="sRGB"><feTurbulence type="fractalNoise" baseFrequency="0.06" numOctaves="2" seed="12"/><feColorMatrix type="matrix" values="0 0 0 0 0.573 0 0 0 0 0.416 0 0 0 0 0.604 2.200 0 0 0 -1.100"/></filter>
<filter id="f6" x="0" y="0" width="100%" height="100%" color-interpolation-filters="sRGB"><feTurbulence type="fractalNoise" baseFrequency="0.3" numOctaves="2" seed="4"/><feColorMatrix type="matrix" values="0 0 0 0 0.369 0 0 0 0 0.227 0 0 0 0 0.439 6.300 0 0 0 -3.276"/><feGaussianBlur stdDeviation="0.4"/></filter>
<filter id="f7" x="0" y="0" width="100%" height="100%" color-interpolation-filters="sRGB"><feTurbulence type="fractalNoise" baseFrequency="0.3" numOctaves="2" seed="44"/><feColorMatrix type="matrix" values="0 0 0 0 0.408 0 0 0 0 0.267 0 0 0 0 0.478 2.800 0 0 0 -1.568"/><feGaussianBlur stdDeviation="0.4"/></filter>
<filter id="f8" x="0" y="0" width="100%" height="100%" color-interpolation-filters="sRGB"><feTurbulence type="fractalNoise" baseFrequency="0.3" numOctaves="2" seed="10"/><feColorMatrix type="matrix" values="0 0 0 0 0.910 0 0 0 0 0.776 0 0 0 0 0.878 5.950 0 0 0 -3.213"/><feGaussianBlur stdDeviation="0.4"/></filter>
<filter id="f9" x="0" y="0" width="100%" height="100%" color-interpolation-filters="sRGB"><feTurbulence type="fractalNoise" baseFrequency="0.08" numOctaves="2" seed="13"/><feColorMatrix type="matrix" values="0 0 0 0 0.706 0 0 0 0 0.651 0 0 0 0 0.667 2.000 0 0 0 -1.000"/></filter>
<filter id="f10" x="0" y="0" width="100%" height="100%" color-interpolation-filters="sRGB"><feTurbulence type="fractalNoise" baseFrequency="0.25" numOctaves="2" seed="5"/><feColorMatrix type="matrix" values="0 0 0 0 0.659 0 0 0 0 0.565 0 0 0 0 0.596 4.200 0 0 0 -2.226"/><feGaussianBlur stdDeviation="0.4"/></filter>
<filter id="f11" x="0" y="0" width="100%" height="100%" color-interpolation-filters="sRGB"><feTurbulence type="fractalNoise" baseFrequency="0.3" numOctaves="2" seed="35"/><feColorMatrix type="matrix" values="0 0 0 0 0.549 0 0 0 0 0.533 0 0 0 0 0.627 2.800 0 0 0 -1.624"/><feGaussianBlur stdDeviation="0.4"/></filter>
<filter id="f12" x="0" y="0" width="100%" height="100%" color-interpolation-filters="sRGB"><feTurbulence type="fractalNoise" baseFrequency="0.2" numOctaves="2" seed="15"/><feColorMatrix type="matrix" values="0 0 0 0 0.910 0 0 0 0 0.894 0 0 0 0 0.902 6.400 0 0 0 -3.520"/><feGaussianBlur stdDeviation="0.4"/></filter>
<filter id="f13" x="0" y="0" width="100%" height="100%" color-interpolation-filters="sRGB"><feTurbulence type="fractalNoise" baseFrequency="0.08" numOctaves="2" seed="14"/><feColorMatrix type="matrix" values="0 0 0 0 0.667 0 0 0 0 0.612 0 0 0 0 0.596 1.600 0 0 0 -0.800"/></filter>
<filter id="f14" x="0" y="0" width="100%" height="100%" color-interpolation-filters="sRGB"><feTurbulence type="fractalNoise" baseFrequency="0.25" numOctaves="2" seed="6"/><feColorMatrix type="matrix" values="0 0 0 0 0.659 0 0 0 0 0.588 0 0 0 0 0.604 3.500 0 0 0 -1.890"/><feGaussianBlur stdDeviation="0.4"/></filter>
<filter id="f15" x="0" y="0" width="100%" height="100%" color-interpolation-filters="sRGB"><feTurbulence type="fractalNoise" baseFrequency="0.3" numOctaves="2" seed="36"/><feColorMatrix type="matrix" values="0 0 0 0 0.486 0 0 0 0 0.455 0 0 0 0 0.533 3.150 0 0 0 -1.827"/><feGaussianBlur stdDeviation="0.4"/></filter>
<filter id="f16" x="0" y="0" width="100%" height="100%" color-interpolation-filters="sRGB"><feTurbulence type="fractalNoise" baseFrequency="0.2" numOctaves="2" seed="16"/><feColorMatrix type="matrix" values="0 0 0 0 0.925 0 0 0 0 0.910 0 0 0 0 0.910 4.000 0 0 0 -2.240"/><feGaussianBlur stdDeviation="0.4"/></filter>
<filter id="f17" x="0" y="0" width="100%" height="100%" color-interpolation-filters="sRGB"><feTurbulence type="fractalNoise" baseFrequency="0.07" numOctaves="2" seed="17"/><feColorMatrix type="matrix" values="0 0 0 0 0.478 0 0 0 0 0.282 0 0 0 0 0.188 2.000 0 0 0 -1.000"/></filter>
<filter id="f18" x="0" y="0" width="100%" height="100%" color-interpolation-filters="sRGB"><feTurbulence type="fractalNoise" baseFrequency="0.3" numOctaves="2" seed="7"/><feColorMatrix type="matrix" values="0 0 0 0 0.455 0 0 0 0 0.259 0 0 0 0 0.161 4.900 0 0 0 -2.646"/><feGaussianBlur stdDeviation="0.4"/></filter>
<filter id="f19" x="0" y="0" width="100%" height="100%" color-interpolation-filters="sRGB"><feTurbulence type="fractalNoise" baseFrequency="0.3" numOctaves="2" seed="37"/><feColorMatrix type="matrix" values="0 0 0 0 0.753 0 0 0 0 0.604 0 0 0 0 0.525 5.600 0 0 0 -2.968"/><feGaussianBlur stdDeviation="0.4"/></filter>
<filter id="f20" x="0" y="0" width="100%" height="100%" color-interpolation-filters="sRGB"><feTurbulence type="fractalNoise" baseFrequency="0.2" numOctaves="2" seed="18"/><feColorMatrix type="matrix" values="0 0 0 0 0.910 0 0 0 0 0.878 0 0 0 0 0.871 7.200 0 0 0 -4.212"/><feGaussianBlur stdDeviation="0.5"/></filter>
<filter id="f21" x="0" y="0" width="100%" height="100%" color-interpolation-filters="sRGB"><feTurbulence type="turbulence" baseFrequency="0.05" numOctaves="1" seed="9"/><feColorMatrix type="matrix" values="0 0 0 0 0.925 0 0 0 0 0.902 0 0 0 0 0.894 -28.571 0 0 0 1.000"/></filter>
<filter id="f22" x="0" y="0" width="100%" height="100%" color-interpolation-filters="sRGB"><feTurbulence type="fractalNoise" baseFrequency="0.3" numOctaves="2" seed="27"/><feColorMatrix type="matrix" values="0 0 0 0 0.690 0 0 0 0 0.627 0 0 0 0 0.659 2.100 0 0 0 -1.176"/><feGaussianBlur stdDeviation="0.4"/></filter>
<filter id="f23" x="0" y="0" width="100%" height="100%" color-interpolation-filters="sRGB"><feTurbulence type="fractalNoise" baseFrequency="0.07" numOctaves="2" seed="19"/><feColorMatrix type="matrix" values="0 0 0 0 0.486 0 0 0 0 0.306 0 0 0 0 0.212 2.000 0 0 0 -1.000"/></filter>
<filter id="f24" x="0" y="0" width="100%" height="100%" color-interpolation-filters="sRGB"><feTurbulence type="fractalNoise" baseFrequency="0.3" numOctaves="2" seed="8"/><feColorMatrix type="matrix" values="0 0 0 0 0.471 0 0 0 0 0.282 0 0 0 0 0.188 4.900 0 0 0 -2.646"/><feGaussianBlur stdDeviation="0.4"/></filter>
<filter id="f25" x="0" y="0" width="100%" height="100%" color-interpolation-filters="sRGB"><feTurbulence type="fractalNoise" baseFrequency="0.3" numOctaves="2" seed="28"/><feColorMatrix type="matrix" values="0 0 0 0 0.784 0 0 0 0 0.620 0 0 0 0 0.533 5.950 0 0 0 -3.154"/><feGaussianBlur stdDeviation="0.4"/></filter>
<filter id="f26" x="0" y="0" width="100%" height="100%" color-interpolation-filters="sRGB"><feTurbulence type="fractalNoise" baseFrequency="0.25" numOctaves="2" seed="48"/><feColorMatrix type="matrix" values="0 0 0 0 0.886 0 0 0 0 0.839 0 0 0 0 0.816 4.800 0 0 0 -2.976"/><feGaussianBlur stdDeviation="0.4"/></filter>
<filter id="f27" x="0" y="0" width="100%" height="100%" color-interpolation-filters="sRGB"><feTurbulence type="fractalNoise" baseFrequency="0.3" numOctaves="2" seed="29"/><feColorMatrix type="matrix" values="0 0 0 0 0.659 0 0 0 0 0.627 0 0 0 0 0.690 2.100 0 0 0 -1.176"/><feGaussianBlur stdDeviation="0.4"/></filter>
<filter id="f28" x="0" y="0" width="100%" height="100%" color-interpolation-filters="sRGB"><feTurbulence type="fractalNoise" baseFrequency="0.08" numOctaves="2" seed="21"/><feColorMatrix type="matrix" values="0 0 0 0 0.675 0 0 0 0 0.627 0 0 0 0 0.651 1.800 0 0 0 -0.900"/></filter>
<filter id="f29" x="0" y="0" width="100%" height="100%" color-interpolation-filters="sRGB"><feTurbulence type="fractalNoise" baseFrequency="0.3" numOctaves="2" seed="22"/><feColorMatrix type="matrix" values="0 0 0 0 0.541 0 0 0 0 0.494 0 0 0 0 0.573 2.800 0 0 0 -1.596"/><feGaussianBlur stdDeviation="0.4"/></filter>
<filter id="f30" x="0" y="0" width="100%" height="100%" color-interpolation-filters="sRGB"><feTurbulence type="fractalNoise" baseFrequency="0.3" numOctaves="2" seed="23"/><feColorMatrix type="matrix" values="0 0 0 0 0.925 0 0 0 0 0.910 0 0 0 0 0.910 3.150 0 0 0 -1.733"/><feGaussianBlur stdDeviation="0.4"/></filter>
<filter id="f31" x="0" y="0" width="100%" height="100%" color-interpolation-filters="sRGB"><feTurbulence type="fractalNoise" baseFrequency="0.08" numOctaves="2" seed="24"/><feColorMatrix type="matrix" values="0 0 0 0 0.690 0 0 0 0 0.612 0 0 0 0 0.588 1.800 0 0 0 -0.900"/></filter>
<filter id="f32" x="0" y="0" width="100%" height="100%" color-interpolation-filters="sRGB"><feTurbulence type="fractalNoise" baseFrequency="0.25" numOctaves="2" seed="54"/><feColorMatrix type="matrix" values="0 0 0 0 0.659 0 0 0 0 0.549 0 0 0 0 0.518 3.500 0 0 0 -1.890"/><feGaussianBlur stdDeviation="0.4"/></filter>
<filter id="f33" x="0" y="0" width="100%" height="100%" color-interpolation-filters="sRGB"><feTurbulence type="fractalNoise" baseFrequency="0.3" numOctaves="2" seed="25"/><feColorMatrix type="matrix" values="0 0 0 0 0.478 0 0 0 0 0.314 0 0 0 0 0.251 3.150 0 0 0 -1.795"/><feGaussianBlur stdDeviation="0.4"/></filter>
<filter id="f34" x="0" y="0" width="100%" height="100%" color-interpolation-filters="sRGB"><feTurbulence type="fractalNoise" baseFrequency="0.3" numOctaves="2" seed="26"/><feColorMatrix type="matrix" values="0 0 0 0 0.922 0 0 0 0 0.898 0 0 0 0 0.886 2.800 0 0 0 -1.624"/><feGaussianBlur stdDeviation="0.4"/></filter>
</defs><text x="122" y="999.9" class="ptl">Primary OC</text>
<text x="308" y="1000.2" class="ptl">Recurrent OC</text>
<svg x="22.1" y="1008.0" width="186.1" height="125.7" viewBox="0 0 186.1 125.7" overflow="hidden">
<mask id="mhe0" maskUnits="userSpaceOnUse" x="0" y="0" width="190" height="130"><rect width="190" height="130" fill="#fff"/><g filter="url(#bl4)" fill="#000"><path d="M10 66 L30 60 L52 66 L62 80 L64 100 L56 124 L12 124 L6 100Z"/><path d="M46 24 L70 20 L86 28 L84 44 L66 42 L50 38Z"/><ellipse cx="156" cy="24" rx="9" ry="9"/><ellipse cx="134" cy="69" rx="6" ry="6"/><ellipse cx="170" cy="52" rx="5" ry="7"/></g></mask>
<rect width="190" height="130" fill="#ceb0c4"/>
<rect width="190" height="130" filter="url(#f0)"/>
<rect width="190" height="130" filter="url(#f1)"/>
<rect width="190" height="130" filter="url(#f2)" mask="url(#mhe0)"/>
<rect width="190" height="130" filter="url(#f3)"/>
<rect width="190" height="130" filter="url(#f4)" opacity="0.8" mask="url(#mhe0)"/>
<g filter="url(#bl3)" fill="#d8bccc" opacity="0.55"><path d="M12 68 L30 62 L50 68 L60 80 L62 100 L54 122 L14 122 L8 100Z"/><path d="M48 26 L70 22 L84 30 L82 42 L66 40 L52 36Z"/><ellipse cx="156" cy="24" rx="8" ry="8"/></g>
<g filter="url(#bl1)" fill="#e4e0e6"><path d="M100 78 L110 76 L117 82 L114 88 L104 87Z"/><path d="M152 88 L160 86 L166 92 L163 99 L156 97Z"/><path d="M93 21 L100 24 L98 30 L93 28Z"/><path d="M96 114 L118 110 L126 118 L120 126 L98 126Z" fill="#dcd0dc"/></g>
<g fill="none" stroke="#e4e0e8" stroke-width="1.5" stroke-linecap="round" filter="url(#bl0)"><path d="M24 47 L44 50 L60 53 L72 57"/><path d="M57 13 L74 15 L92 20"/><path d="M132 13 L134 30 L130 53"/><path d="M74 66 L84 72 L92 79"/></g>
</svg>
<rect x="22.95" y="1008.85" width="184.40" height="124.00" fill="none" stroke="#151515" stroke-width="1.7"/>
<text x="26.3" y="1032.6" class="plab">H&amp;E</text>
<svg x="209.9" y="1008.0" width="186.3" height="125.7" viewBox="0 0 186.3 125.7" overflow="hidden">
<mask id="mhe1" maskUnits="userSpaceOnUse" x="0" y="0" width="190" height="130"><rect width="190" height="130" fill="#fff"/><g filter="url(#bl5)" fill="#000"><ellipse cx="100" cy="75" rx="30" ry="30" opacity="0.6"/><ellipse cx="30" cy="110" rx="30" ry="15" opacity="0.5"/></g></mask>
<rect width="190" height="130" fill="#c498ba"/>
<rect width="190" height="130" filter="url(#f5)"/>
<rect width="190" height="130" filter="url(#f6)" mask="url(#mhe1)"/>
<rect width="190" height="130" filter="url(#f7)"/>
<rect width="190" height="130" filter="url(#f8)"/>
<g filter="url(#bl1)" fill="none" stroke="#dcbcda" stroke-width="1.6" opacity="0.8"><path d="M0 108 L20 100 L40 92 L60 84 L80 76 L100 70"/><path d="M5 60 L25 58 L45 62 L60 70 L75 82"/><path d="M20 90 L40 78 L60 62 L80 50 L98 42"/><path d="M60 120 L78 104 L96 92 L118 82 L140 76 L160 68 L186 56"/><path d="M120 50 L140 46 L160 40 L186 36"/><path d="M90 110 L110 100 L130 100 L150 96"/></g>
<g filter="url(#bl2)"><path d="M136 0 L186 0 L186 18 L168 24 L160 32 L142 30 L137 16Z" fill="#dccce0" opacity="0.6"/></g>
<g filter="url(#bl1)"><path d="M83 0 L152 0 L140 6 L137 11 L139 18 L135 23 L123 27 L114 23 L105 20 L96 22 L88 23 L85 12Z" fill="#f0ecf0"/></g>
</svg>
<rect x="210.75" y="1008.85" width="184.60" height="124.00" fill="none" stroke="#151515" stroke-width="1.7"/>
<text x="216.0" y="1032.6" class="plab">H&amp;E</text>
<rect x="360.6" y="1108.3" width="26.5" height="3.6" fill="#000"/>
<text x="394.3" y="1131.1" class="um">100μm</text>
<svg x="22.1" y="1136.2" width="186.1" height="125.9" viewBox="0 0 186.1 125.9" overflow="hidden">
<rect width="190" height="130" fill="#d0c8ca"/>
<g filter="url(#bl4)"><ellipse cx="30" cy="40" rx="22" ry="15" fill="#c6c4d0"/><ellipse cx="158" cy="22" rx="14" ry="14" fill="#c4c2d0"/><ellipse cx="128" cy="70" rx="14" ry="12" fill="#c8c6d2"/><ellipse cx="60" cy="110" rx="16" ry="10" fill="#c8c6d2"/></g>
<rect width="190" height="130" filter="url(#f9)"/>
<rect width="190" height="130" filter="url(#f10)"/>
<rect width="190" height="130" filter="url(#f11)"/>
<rect width="190" height="130" filter="url(#f12)"/>
</svg>
<rect x="22.95" y="1137.05" width="184.40" height="124.20" fill="none" stroke="#151515" stroke-width="1.7"/>
<text x="26.3" y="1157.6" class="plab">IgG</text>
<svg x="209.9" y="1136.2" width="186.3" height="125.9" viewBox="0 0 186.3 125.9" overflow="hidden">
<rect width="190" height="130" fill="#d5ccc9"/>
<g filter="url(#bl4)"><ellipse cx="75" cy="70" rx="42" ry="32" fill="#cdc1bc"/><ellipse cx="160" cy="40" rx="26" ry="30" fill="#d4d0d4"/><ellipse cx="40" cy="45" rx="20" ry="15" fill="#ccc8d0"/></g>
<rect width="190" height="130" filter="url(#f13)"/>
<rect width="190" height="130" filter="url(#f14)"/>
<rect width="190" height="130" filter="url(#f15)"/>
<g filter="url(#bl2)" fill="none" stroke="#e8e4e5" stroke-linecap="round"><path d="M114 6 L120 15 L125 25 L130 38 L138 52 L148 66 L160 80 L172 93" stroke-width="5"/><path d="M0 106 L15 112 L30 118 L45 126" stroke-width="7"/></g>
<rect width="190" height="130" filter="url(#f16)"/>
</svg>
<rect x="210.75" y="1137.05" width="184.60" height="124.20" fill="none" stroke="#151515" stroke-width="1.7"/>
<text x="216.0" y="1157.6" class="plab">IgG</text>
<rect x="357.8" y="1232.0" width="26.5" height="3.6" fill="#000"/>
<text x="394.3" y="1256.7" class="um">100μm</text>
<svg x="22.1" y="1264.4" width="186.1" height="125.3" viewBox="0 0 186.1 125.3" overflow="hidden">
<rect width="190" height="130" fill="#a06a4e"/>
<rect width="190" height="130" filter="url(#f17)"/>
<rect width="190" height="130" filter="url(#f18)"/>
<rect width="190" height="130" filter="url(#f19)"/>
<rect width="190" height="130" filter="url(#f20)"/>
<rect width="190" height="130" filter="url(#f21)" opacity="0.6"/>
<g filter="url(#bl1)" fill="#d8d0d2"><path d="M18 68 L26 62 L40 60 L52 63 L55 72 L50 80 L40 84 L28 85 L20 80Z"/><path d="M37 88 L46 82 L58 80 L66 84 L64 94 L56 99 L44 99 L38 95Z"/><path d="M74 72 L82 66 L92 68 L96 76 L104 79 L116 80 L119 88 L112 96 L96 96 L84 95 L76 88Z"/><path d="M108 62 L118 59 L130 60 L132 68 L124 71 L110 70Z"/><path d="M139 55 L150 52 L160 54 L158 61 L146 63 L140 61Z"/><path d="M136 9 L146 6 L158 8 L164 14 L158 20 L144 20 L137 15Z"/><path d="M145 37 L154 33 L163 36 L161 43 L150 44Z"/><path d="M25 26 L34 22 L43 25 L44 33 L36 38 L27 35Z"/><path d="M44 116 L54 112 L66 114 L66 126 L44 126Z"/><path d="M108 116 L118 113 L127 116 L126 126 L108 126Z"/><path d="M0 32 L6 34 L8 46 L7 62 L0 62Z"/><path d="M116 30 L124 29 L127 35 L118 37Z"/><path d="M132 44 L139 43 L140 49 L133 49Z"/><path d="M151 97 L159 96 L160 106 L152 107Z"/><path d="M128 89 L135 89 L136 96 L129 96Z"/><path d="M183 64 L187 64 L187 80 L183 80Z"/><path d="M92 22 L104 21 L105 29 L93 29Z"/></g>
<path d="M172 20 L175 45 L174 62 L169 80 L166 95 L162 110 L161 126" fill="none" stroke="#e6dcd8" stroke-width="1.3" opacity="0.8" filter="url(#bl0)"/>
<rect width="190" height="130" filter="url(#f22)" opacity="0.6"/>
</svg>
<rect x="22.95" y="1265.25" width="184.40" height="123.60" fill="none" stroke="#151515" stroke-width="1.7"/>
<text x="26.3" y="1283.6" class="plab">Cytokeratin</text>
<svg x="209.9" y="1264.4" width="186.3" height="125.3" viewBox="0 0 186.3 125.3" overflow="hidden">
<rect width="190" height="130" fill="#a26c50"/>
<rect width="190" height="130" filter="url(#f23)"/>
<rect width="190" height="130" filter="url(#f24)"/>
<rect width="190" height="130" filter="url(#f25)"/>
<rect width="190" height="130" filter="url(#f26)"/>
<g filter="url(#bl1)" fill="#dedadf"><path d="M0 23 L20 25 L40 27 L60 30 L80 33 L94 40 L110 44 L125 48 L138 52 L142 55 L130 54 L115 52 L100 51 L94 51 L80 48 L60 46 L46 45 L30 40 L15 37 L0 36Z"/><path d="M0 53 L15 55 L28 60 L33 63 L20 63 L8 60 L0 58Z"/><path d="M66 53 L80 60 L94 66 L110 72 L125 77 L140 82 L158 87 L150 90 L132 84 L115 80 L98 75 L90 71 L78 63Z"/><path d="M0 92 L20 90 L44 86 L56 81 L63 78 L72 81 L80 86 L84 98 L84 102 L66 101 L53 100 L40 103 L22 106 L0 104Z"/><path d="M0 0 L33 0 L30 5 L0 5Z"/><path d="M125 3 L145 3 L144 12 L134 14 L126 12Z"/><path d="M167 7 L185 7 L185 16 L170 16Z"/><path d="M153 17 L159 17 L159 23 L153 23Z"/><path d="M167 23 L175 23 L175 29 L167 29Z"/><path d="M155 63 L161 63 L161 69 L155 69Z"/><path d="M116 96 L129 96 L129 104 L116 104Z"/><path d="M2 115 L26 114 L26 123 L2 123Z" fill="#d8ccc8"/></g>
<path d="M166 51 L186 46 L186 126 L168 126 L166 120 L161 107 L155 96 L159 88 L161 75 L164 56Z" fill="#f6f5f5" filter="url(#bl1)"/>
<rect width="190" height="130" filter="url(#f27)" opacity="0.5"/>
</svg>
<rect x="210.75" y="1265.25" width="184.60" height="123.60" fill="none" stroke="#151515" stroke-width="1.7"/>
<text x="216.0" y="1283.6" class="plab">Cytokeratin</text>
<rect x="356.1" y="1361.2" width="26.5" height="3.6" fill="#000"/>
<text x="394.3" y="1383.6" class="um">100μm</text>
<svg x="22.1" y="1392.5" width="186.1" height="125.7" viewBox="0 0 186.1 125.7" overflow="hidden">
<rect width="190" height="130" fill="#d0c8c8"/>
<rect width="190" height="130" filter="url(#f28)"/>
<g filter="url(#bl3)"><ellipse cx="170" cy="36" rx="13" ry="9" fill="#c0bcca" opacity="0.7"/><path d="M0 103 L20 104 L40 108 L53 114 L55 126 L0 126Z" fill="#bc9c8c" opacity="0.85"/><path d="M0 87 L10 88 L12 100 L0 100Z" fill="#b89684" opacity="0.8"/><path d="M99 113 L125 112 L126 126 L99 126Z" fill="#bc9c8c" opacity="0.8"/></g>
<g filter="url(#bl1)" fill="#a8785e"><path d="M78 42 L84 48 L86 58 L85 68 L80 74 L70 78 L64 74 L62 64 L59 56 L64 50 L72 46Z"/><ellipse cx="46.5" cy="54.5" rx="4.5" ry="4.5" opacity="0.75"/><ellipse cx="45" cy="74" rx="5" ry="5" opacity="0.75"/><ellipse cx="47" cy="99.5" rx="6" ry="4.5" opacity="0.75"/><path d="M78 80 L86 78 L88 86 L82 90Z" opacity="0.7"/><path d="M90 21 L95 21 L95 27 L90 27Z" opacity="0.7"/><path d="M152 3 L157 3 L164 14 L163 19 L159 19Z" opacity="0.85"/><path d="M100 52 L108 50 L110 55 L102 57Z" opacity="0.6"/></g>
<g filter="url(#bl1)" fill="none" stroke="#a8745a" stroke-linecap="round"><path d="M121 84 L130 72 L140 60 L150 52 L157 48" stroke-width="3.5" opacity="0.85"/><path d="M128 80 L140 70 L150 66 L160 62" stroke-width="3" opacity="0.8"/><path d="M142 58 L150 55 L156 60 L152 68" stroke-width="2.5" opacity="0.8"/><path d="M131 88 L136 100 L140 112 L143 120" stroke-width="3.5" opacity="0.8"/><path d="M138 90 L144 104 L146 116" stroke-width="2.5" opacity="0.7"/></g>
<rect width="190" height="130" filter="url(#f29)"/>
<rect width="190" height="130" filter="url(#f30)"/>
</svg>
<rect x="22.95" y="1393.35" width="184.40" height="124.00" fill="none" stroke="#151515" stroke-width="1.7"/>
<text x="26.3" y="1412.3" class="plab">Anti-POSTN</text>
<svg x="209.9" y="1392.5" width="186.3" height="125.7" viewBox="0 0 186.3 125.7" overflow="hidden">
<rect width="190" height="130" fill="#d3c7c3"/>
<rect width="190" height="130" filter="url(#f31)"/>
<rect width="190" height="130" filter="url(#f32)"/>
<g filter="url(#bl2)" opacity="0.9"><path d="M0 30 L20 27 L40 23 L60 18 L87 15 L110 12 L130 4 L145 2 L152 12 L160 26 L172 34 L186 38 L186 66 L176 70 L164 78 L160 88 L148 86 L140 74 L122 64 L96 58 L74 56 L54 55 L40 52 L22 50 L0 54Z" fill="#ac7a60"/><path d="M50 28 L80 23 L110 21 L133 23 L134 44 L112 48 L85 47 L56 44Z" fill="#c9bec2"/><path d="M3 96 L12 92 L20 96 L22 120 L12 124 L3 120Z" fill="#b89488"/><path d="M30 102 L50 100 L60 108 L62 123 L30 123 L26 112Z" fill="#b08470"/><path d="M74 104 L94 100 L110 104 L119 110 L116 122 L76 121 L71 112Z" fill="#b08470"/></g>
<g filter="url(#bl1)" fill="#e6e2e2"><path d="M16 47 L40 53 L60 55 L78 58 L70 64 L50 66 L34 72 L24 84 L18 92 L8 92 L0 90 L0 64 L8 56Z"/><path d="M92 60 L115 64 L136 70 L132 73 L110 70 L92 67Z" opacity="0.8"/><path d="M145 11 L160 12 L166 24 L160 28 L150 26Z"/><path d="M167 3 L185 3 L185 16 L170 16Z" opacity="0.8"/><path d="M169 44 L184 46 L184 56 L172 54Z" opacity="0.7"/><path d="M30 86 L55 84 L80 88 L70 94 L40 96Z" opacity="0.6"/></g>
<rect width="190" height="130" filter="url(#f33)"/>
<rect width="190" height="130" filter="url(#f34)"/>
</svg>
<rect x="210.75" y="1393.35" width="184.60" height="124.00" fill="none" stroke="#151515" stroke-width="1.7"/>
<text x="212.2" y="1412.3" class="plab">Anti-POSTN</text>
<rect x="358.0" y="1485.8" width="26.5" height="3.6" fill="#000"/>
<text x="394.3" y="1511.1" class="um">100μm</text>
</svg>
</body></html>
